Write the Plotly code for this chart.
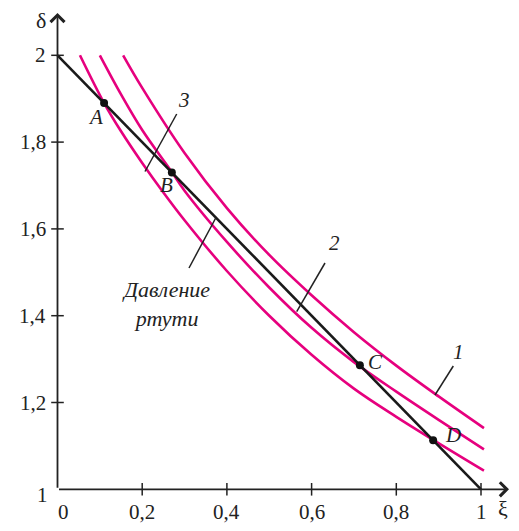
import plotly.graph_objects as go

# ---------------- data ----------------
line_xi = [0.0, 1.0]
line_delta = [2.0, 1.0]

c1_xi = [0.155, 0.2, 0.3, 0.4, 0.5, 0.6, 0.7, 0.8, 0.9, 1.007]
c1_delta = [2.0, 1.925, 1.775, 1.648, 1.540, 1.447, 1.362, 1.285, 1.214, 1.141]

c2_xi = [0.1, 0.15, 0.2, 0.27, 0.3, 0.4, 0.5, 0.6, 0.7, 0.8, 0.9, 1.007]
c2_delta = [2.0, 1.910, 1.828, 1.731, 1.688, 1.570, 1.465, 1.372, 1.293, 1.225, 1.160, 1.092]

c3_xi = [0.053, 0.11, 0.15, 0.2, 0.25, 0.3, 0.4, 0.5, 0.6, 0.7, 0.8, 0.887, 1.007]
c3_delta = [2.0, 1.890, 1.825, 1.752, 1.684, 1.620, 1.503, 1.40, 1.31, 1.232, 1.167, 1.114, 1.043]

pt_names = ["A", "B", "C", "D"]
pt_xi = [0.11, 0.27, 0.714, 0.887]
pt_delta = [1.89, 1.73, 1.286, 1.113]

x_tickvals = [0.2, 0.4, 0.6, 0.8, 1.0]
x_ticktext = ["0,2", "0,4", "0,6", "0,8", "1"]
y_tickvals = [1.2, 1.4, 1.6, 1.8, 2.0]
y_ticktext = ["1,2", "1,4", "1,6", "1,8", "2"]

# ---------------- styling helpers ----------------
MAG = "#E6007E"
FONT = "Liberation Serif"
OFF = 8                     # page body margin
W, H = 519 - 2 * OFF, 531 - 2 * OFF
X0PX, XSC = 57.5, 423.5     # reference pixel of xi=0, pixels per unit
Y1PX, YSC = 489.3, 434.0    # reference pixel of delta=1, pixels per unit


def fx(px):
    return (px - X0PX) / XSC


def fy(py):
    return 1 + (Y1PX - py) / YSC


fig = go.Figure()

for xs, ys in [(c1_xi, c1_delta), (c2_xi, c2_delta), (c3_xi, c3_delta)]:
    fig.add_trace(go.Scatter(x=xs, y=ys, mode="lines",
                             line=dict(color=MAG, width=2.6, shape="spline", smoothing=1.0),
                             hoverinfo="skip", showlegend=False))

fig.add_trace(go.Scatter(x=line_xi, y=line_delta, mode="lines",
                         line=dict(color="#1a1a1a", width=2.6),
                         showlegend=False))

fig.add_trace(go.Scatter(x=pt_xi, y=pt_delta, mode="markers",
                         marker=dict(color="#111", size=8),
                         showlegend=False))

# tick marks (crossing the axes)
fig.add_trace(go.Scatter(x=x_tickvals, y=[1.0] * len(x_tickvals), mode="markers",
                         marker=dict(symbol="line-ns", size=9,
                                     line=dict(color="#222", width=1.5)),
                         showlegend=False, cliponaxis=False))
fig.add_trace(go.Scatter(x=[0.0] * len(y_tickvals), y=y_tickvals, mode="markers",
                         marker=dict(symbol="line-ew", size=9,
                                     line=dict(color="#222", width=1.5)),
                         showlegend=False, cliponaxis=False))

annotations = []
# axes with arrowheads
annotations.append(dict(x=fx(509), y=1.0, ax=0.0, ay=1.0, xref="x", yref="y",
                        axref="x", ayref="y", text="", showarrow=True,
                        arrowhead=4, arrowsize=1.5, arrowwidth=1.8, arrowcolor="#222"))
annotations.append(dict(x=0.0, y=fy(13), ax=0.0, ay=1.0, xref="x", yref="y",
                        axref="x", ayref="y", text="", showarrow=True,
                        arrowhead=4, arrowsize=1.5, arrowwidth=1.8, arrowcolor="#222"))

tick_font = dict(family=FONT, size=21, color="#222")
for v, t in zip(x_tickvals, x_ticktext):
    annotations.append(dict(x=v, y=fy(512), text=t, showarrow=False,
                            xanchor="center", yanchor="middle", font=tick_font))
annotations.append(dict(x=fx(63), y=fy(512), text="0", showarrow=False,
                        xanchor="center", yanchor="middle", font=tick_font))
for v, t in zip(y_tickvals, y_ticktext):
    annotations.append(dict(x=fx(48), y=v, text=t, showarrow=False,
                            xanchor="right", yanchor="middle", font=tick_font))
annotations.append(dict(x=fx(50), y=fy(495), text="1", showarrow=False,
                        xanchor="right", yanchor="middle", font=tick_font))

# axis titles
annotations.append(dict(x=fx(41), y=fy(20), text="δ", showarrow=False,
                        font=dict(family=FONT, size=22, color="#222")))
annotations.append(dict(x=fx(503), y=fy(508), text="ξ", showarrow=False,
                        font=dict(family=FONT, size=22, color="#222")))

# point labels
lab_font = dict(family=FONT, size=21, color="#222")
for name, pos in zip(pt_names, [(95, 117), (166, 185), (375, 362), (453, 435)]):
    annotations.append(dict(x=fx(pos[0]), y=fy(pos[1]), text="<i>%s</i>" % name,
                            showarrow=False, font=lab_font))

# curve number labels
for txt, pos in [("3", (184, 100)), ("2", (334, 243)), ("1", (458, 352))]:
    annotations.append(dict(x=fx(pos[0]), y=fy(pos[1]), text="<i>%s</i>" % txt,
                            showarrow=False, font=lab_font))

annotations.append(dict(x=fx(166), y=fy(304), text="<i>Давление<br>ртути</i>",
                        showarrow=False, align="center",
                        font=dict(family=FONT, size=22, color="#222")))

# leader lines
shapes = []
for (a, b) in [((145, 171.5), (176.7, 114)),
               ((325, 263), (296.7, 311.7)),
               ((453.3, 366), (435, 395)),
               ((189, 268), (216, 217.5))]:
    shapes.append(dict(type="line", xref="x", yref="y",
                       x0=fx(a[0]), y0=fy(a[1]), x1=fx(b[0]), y1=fy(b[1]),
                       line=dict(color="#222", width=1.5)))

fig.update_layout(
    width=W, height=H,
    margin=dict(l=0, r=0, t=0, b=0),
    paper_bgcolor="white", plot_bgcolor="white",
    xaxis=dict(range=[fx(OFF), fx(OFF + W)], visible=False, fixedrange=True),
    yaxis=dict(range=[fy(OFF + H), fy(OFF)], visible=False, fixedrange=True),
    annotations=annotations, shapes=shapes,
    showlegend=False,
)

fig.write_html("out.html")
